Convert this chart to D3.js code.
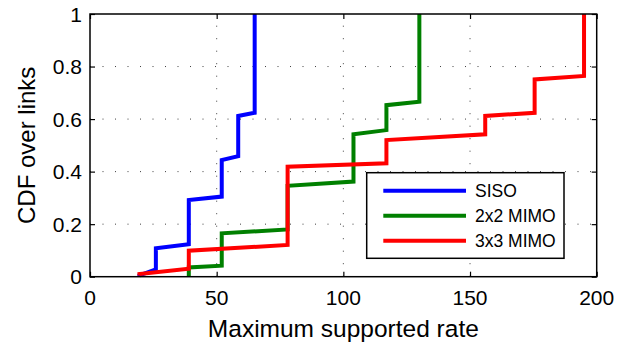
<!DOCTYPE html>
<html>
<head>
<meta charset="utf-8">
<script src="https://cdn.jsdelivr.net/npm/d3@7"></script>
<style>
  body { margin: 0; background: #fff; }
  text { font-family: "Liberation Sans", Arial, sans-serif; fill: #000; }
</style>
</head>
<body>
<div id="chart"></div>
<script>
// rates (Mbps) where each CDF step happens, with CDF level before / after the jump
const sisoRates = [19.5, 26, 39, 52, 58.5, 65];
const sisoLo    = [0, 0.028, 0.124, 0.305, 0.459, 0.624];
const sisoHi    = [0.005, 0.108, 0.292, 0.444, 0.612, 1];

const mimo2Rates = [39, 52, 78, 104, 117, 130];
const mimo2Lo    = [0, 0.042, 0.180, 0.362, 0.558, 0.666];
const mimo2Hi    = [0.035, 0.165, 0.346, 0.542, 0.653, 1];

const mimo3Rates = [19.5, 39, 78, 117, 156, 175.5, 195];
const mimo3Lo    = [0.005, 0.030, 0.121, 0.432, 0.542, 0.624, 0.764];
const mimo3Hi    = [0.010, 0.099, 0.419, 0.520, 0.612, 0.751, 1];

const seriesNames  = ["SISO", "2x2 MIMO", "3x3 MIMO"];
const seriesColors = ["#0000ff", "#008000", "#ff0000"];

const xTicks = [0, 50, 100, 150, 200];
const yTicks = [0, 0.2, 0.4, 0.6, 0.8, 1];

const width = 634, height = 343;
const margin = { top: 14, right: 37.3, bottom: 66.3, left: 90 };

const series = [
    { rates: sisoRates,  lo: sisoLo,  hi: sisoHi  },
    { rates: mimo2Rates, lo: mimo2Lo, hi: mimo2Hi },
    { rates: mimo3Rates, lo: mimo3Lo, hi: mimo3Hi }
];

const svg = d3.select("#chart").append("svg")
    .attr("width", width)
    .attr("height", height);

const x = d3.scaleLinear().domain([0, 200]).range([margin.left, width - margin.right]);
const y = d3.scaleLinear().domain([0, 1]).range([height - margin.bottom, margin.top]);

// dotted grid
const grid = svg.append("g")
    .attr("stroke", "#000")
    .attr("stroke-width", 1)
    .attr("stroke-dasharray", "1,11.5")
    .attr("opacity", 0.75);

grid.selectAll("line.v")
    .data(xTicks.slice(1, -1))
    .join("line")
    .attr("x1", d => x(d)).attr("x2", d => x(d))
    .attr("y1", y(0)).attr("y2", y(1));

grid.selectAll("line.h")
    .data(yTicks.slice(1, -1))
    .join("line")
    .attr("x1", x(0)).attr("x2", x(200))
    .attr("y1", d => y(d)).attr("y2", d => y(d));

// axes: ticks pointing inward on all four sides
const tl = 5;
svg.append("g")
    .attr("transform", `translate(0,${y(0)})`)
    .call(d3.axisTop(x).tickValues(xTicks).tickSize(tl).tickFormat(""))
    .call(g => g.select(".domain").remove());
svg.append("g")
    .attr("transform", `translate(0,${y(1)})`)
    .call(d3.axisBottom(x).tickValues(xTicks).tickSize(tl).tickFormat(""))
    .call(g => g.select(".domain").remove());
svg.append("g")
    .attr("transform", `translate(${x(0)},0)`)
    .call(d3.axisRight(y).tickValues(yTicks).tickSize(tl).tickFormat(""))
    .call(g => g.select(".domain").remove());
svg.append("g")
    .attr("transform", `translate(${x(200)},0)`)
    .call(d3.axisLeft(y).tickValues(yTicks).tickSize(tl).tickFormat(""))
    .call(g => g.select(".domain").remove());

svg.selectAll(".tick line").attr("stroke", "#000").attr("stroke-width", 1.2);

// tick labels
svg.append("g").selectAll("text")
    .data(xTicks)
    .join("text")
    .attr("x", d => x(d))
    .attr("y", 305)
    .attr("text-anchor", "middle")
    .style("font-size", "21px")
    .text(d => d);

svg.append("g").selectAll("text")
    .data(yTicks)
    .join("text")
    .attr("x", 82)
    .attr("y", d => y(d))
    .attr("dy", "0.36em")
    .attr("text-anchor", "end")
    .style("font-size", "21px")
    .text(d => d3.format("~g")(d));

// axis titles
svg.append("text")
    .attr("x", (x(0) + x(200)) / 2)
    .attr("y", 336.5)
    .attr("text-anchor", "middle")
    .style("font-size", "24.5px")
    .text("Maximum supported rate");

svg.append("text")
    .attr("transform", `translate(35,${(y(0) + y(1)) / 2}) rotate(-90)`)
    .attr("text-anchor", "middle")
    .style("font-size", "24px")
    .text("CDF over links");

// curves
const line = d3.line().x(d => x(d[0])).y(d => y(d[1]));

series.forEach((s, i) => {
    const pts = [];
    s.rates.forEach((r, k) => {
        pts.push([r, s.lo[k]]);
        pts.push([r, s.hi[k]]);
    });
    svg.append("path")
        .attr("d", line(pts))
        .attr("fill", "none")
        .attr("stroke", seriesColors[i])
        .attr("stroke-width", 4)
        .attr("stroke-linejoin", "miter");
});

// box
svg.append("rect")
    .attr("x", x(0)).attr("y", y(1))
    .attr("width", x(200) - x(0)).attr("height", y(0) - y(1))
    .attr("fill", "none")
    .attr("stroke", "#000")
    .attr("stroke-width", 1.5);

// legend
const lg = svg.append("g");
lg.append("rect")
    .attr("x", 366.7).attr("y", 172.7)
    .attr("width", 197.3).attr("height", 85.6)
    .attr("fill", "#fff")
    .attr("stroke", "#000")
    .attr("stroke-width", 1.5);

seriesNames.forEach((name, i) => {
    const yy = 190.7 + i * 25;
    lg.append("line")
        .attr("x1", 383.3).attr("x2", 466)
        .attr("y1", yy).attr("y2", yy)
        .attr("stroke", seriesColors[i])
        .attr("stroke-width", 4);
    lg.append("text")
        .attr("x", 475)
        .attr("y", yy)
        .attr("dy", "0.36em")
        .style("font-size", "17.5px")
        .text(name);
});
</script>
</body>
</html>
